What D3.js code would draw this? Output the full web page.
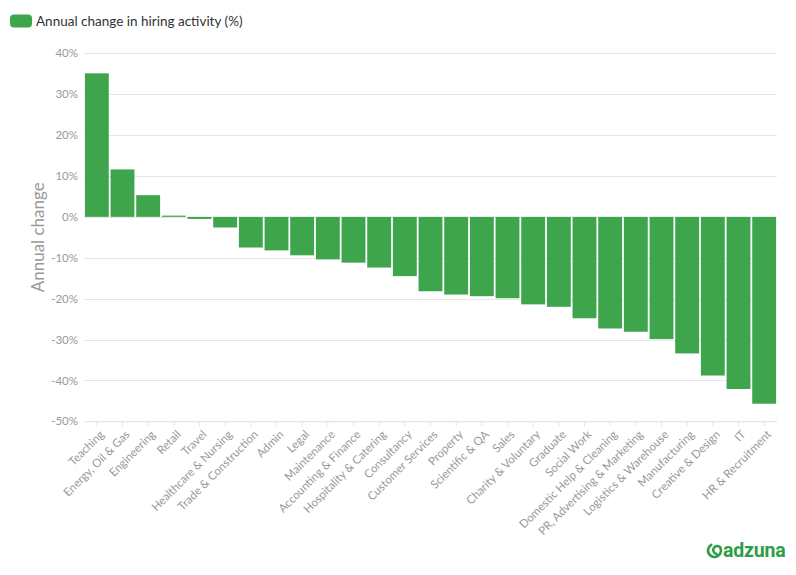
<!DOCTYPE html>
<html><head><meta charset="utf-8">
<script src="https://cdn.jsdelivr.net/npm/d3@7/dist/d3.min.js"></script>
<style>
body{margin:0;background:#fff;}
svg{display:block;font-family:"Source Sans Pro",Lato,"Open Sans",sans-serif;}
</style></head>
<body><svg id="c" width="796" height="575"></svg>
<script>
const categories = ["Teaching","Energy, Oil & Gas","Engineering","Retail","Travel","Healthcare & Nursing","Trade & Construction","Admin","Legal","Maintenance","Accounting & Finance","Hospitality & Catering","Consultancy","Customer Services","Property","Scientific & QA","Sales","Charity & Voluntary","Graduate","Social Work","Domestic Help & Cleaning","PR, Advertising & Marketing","Logistics & Warehouse","Manufacturing","Creative & Design","IT","HR & Recruitment"];
const values = [35.1,11.6,5.3,0.3,-0.5,-2.6,-7.5,-8.2,-9.4,-10.4,-11.2,-12.4,-14.5,-18.2,-19.0,-19.4,-19.9,-21.4,-22.0,-24.8,-27.3,-28.1,-29.9,-33.4,-38.8,-42.1,-45.7];
const yTicks = [40,30,20,10,0,-10,-20,-30,-40,-50];
const seriesName = "Annual change in hiring activity (%)";
const yTitle = "Annual change";

const svg = d3.select("#c");
const green = "#3ea54c";
const pLeft = 84, pRight = 777, pTop = 53.3, pBottom = 421.3;
const FONT = '"Source Sans Pro",Lato,"Open Sans",sans-serif';

const x = d3.scaleBand().domain(categories).range([pLeft, pRight]).paddingInner(0.07).paddingOuter(0.035);
const y = d3.scaleLinear().domain([-50, 40]).range([pBottom, pTop]);

// gridlines
svg.append("g").selectAll("line").data(yTicks).join("line")
  .attr("x1", pLeft).attr("x2", pRight)
  .attr("y1", d => Math.round(y(d)) + 0.5).attr("y2", d => Math.round(y(d)) + 0.5)
  .attr("stroke", "#e6e6e6").attr("stroke-width", 1);

// y axis labels
const yAxis = d3.axisLeft(y).tickValues(yTicks).tickFormat(d => d + "%").tickSize(0).tickPadding(6);
const ya = svg.append("g").attr("transform", `translate(${pLeft},0)`).call(yAxis).attr("font-family", FONT);
ya.select(".domain").remove();
ya.selectAll("text").attr("fill", "#999").attr("font-size", 11.5);

// x axis
const xAxis = d3.axisBottom(x).tickSize(5).tickPadding(4);
const xa = svg.append("g").attr("transform", `translate(0,${pBottom})`).call(xAxis).attr("font-family", FONT);
xa.select(".domain").attr("stroke", "#e6e6e6").attr("d", `M${pLeft},0.5H${pRight}`);
xa.selectAll(".tick line").attr("stroke", "#e6e6e6");
xa.selectAll("text").attr("fill", "#999").attr("font-size", 11.5)
  .attr("text-anchor", "end").attr("y", 0).attr("dy", "0.35em")
  .attr("transform", "translate(5,11) rotate(-45)");

// bars
svg.append("g").selectAll("rect").data(categories).join("rect")
  .attr("x", d => x(d))
  .attr("width", x.bandwidth())
  .attr("y", (d, i) => Math.min(y(values[i]), y(0)))
  .attr("height", (d, i) => Math.max(Math.abs(y(values[i]) - y(0)), 1))
  .attr("fill", green);

// y title
svg.append("text").attr("transform", `translate(44,${(pTop + pBottom) / 2}) rotate(-90)`)
  .attr("text-anchor", "middle").attr("fill", "#999").attr("font-size", 17).text(yTitle);

// legend
svg.append("rect").attr("x", 10).attr("y", 14.5).attr("width", 22).attr("height", 13).attr("rx", 4).attr("fill", green);
svg.append("text").attr("x", 36).attr("y", 26).attr("fill", "#333").attr("font-size", 13.5).text(seriesName);

// logo
const lg = svg.append("g").attr("transform", "translate(714.5,550.5)");
lg.append("path").attr("d", "M0,-6.5 A6.5,6.5 0 1 0 6.5,0 A4,4 0 1 0 0,4")
  .attr("fill", "none").attr("stroke", "#2f9d46").attr("stroke-width", 2.6).attr("stroke-linecap", "round")
  .attr("transform", "rotate(-30)");
svg.append("text").attr("x", 723).attr("y", 557).attr("fill", "#2f9d46").attr("font-size", 19.5)
  .attr("font-weight", "bold").attr("font-family", "Roboto, sans-serif").attr("letter-spacing", -0.2).text("adzuna");
</script></body></html>
